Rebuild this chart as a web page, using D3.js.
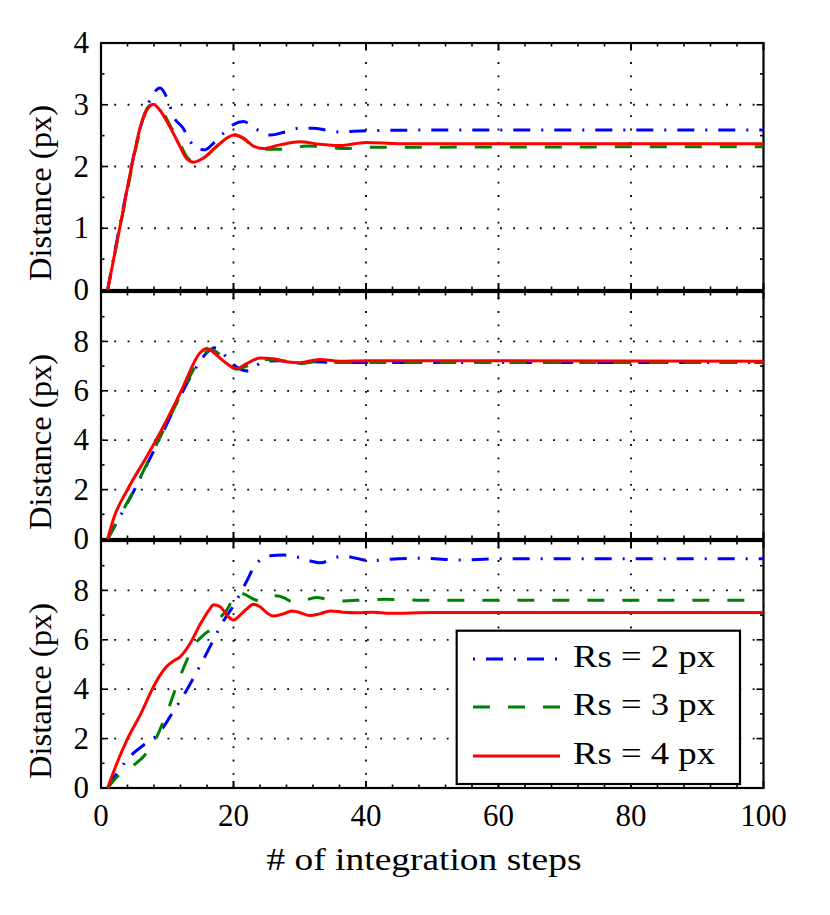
<!DOCTYPE html>
<html>
<head>
<meta charset="utf-8">
<script src="https://cdn.jsdelivr.net/npm/d3@7"></script>
<style>
  body { margin: 0; background: #fff; }
</style>
</head>
<body>
<div id="chart"></div>
<script>
// values, [step, distance]
const panel1Rs2 = [[1,0],[3.4,1.35],[6,2.65],[7.5,3.1],[8.9,3.27],[10,3.1],[11,2.8],[12.4,2.62],[13.5,2.4],[14.7,2.28],[15.7,2.27],[17,2.38],[18.6,2.55],[20,2.68],[21.5,2.73],[23.5,2.6],[25.6,2.51],[27.5,2.55],[30,2.62],[32,2.62],[34,2.59],[36,2.56],[40,2.58],[50,2.59],[100,2.59]];
const panel1Rs3 = [[1,0],[3.4,1.3],[6,2.62],[7,2.95],[7.7,3.0],[9,2.93],[10.5,2.65],[12,2.35],[13,2.15],[14,2.08],[15.5,2.14],[17.5,2.33],[20,2.52],[21.5,2.45],[23,2.33],[24.5,2.28],[27,2.28],[29,2.3],[31,2.33],[34,2.32],[37,2.29],[40,2.31],[100,2.32]];
const panel1Rs4 = [[1,0],[3,1.1],[5,2.2],[6,2.67],[7.3,2.97],[7.9,3.01],[8.6,2.95],[10.9,2.54],[11.9,2.33],[12.9,2.13],[14,2.07],[15.5,2.14],[17.5,2.33],[19,2.46],[20,2.51],[21.5,2.46],[23,2.33],[24.5,2.29],[27,2.35],[30,2.4],[33,2.36],[36,2.34],[40,2.39],[45,2.37],[100,2.37]];

const panel2Rs2 = [[1,0],[3.4,1.17],[5,1.97],[7,3.05],[9.7,4.52],[12.5,6.06],[14.5,7.0],[16,7.55],[17.2,7.74],[18,7.65],[19,7.34],[20.5,6.95],[22.2,6.8],[24.5,7.18],[27,7.22],[30,7.12],[32,7.18],[35,7.15],[40,7.15],[100,7.15]];
const panel2Rs3 = [[1,0],[3.4,1.2],[5,2.0],[7,3.08],[9.7,4.55],[12.5,6.1],[14.5,7.1],[15.8,7.55],[16.7,7.66],[18,7.45],[19.5,7.0],[20.5,6.87],[22,7.0],[25,7.27],[28,7.2],[30.2,7.1],[33,7.2],[36,7.15],[40,7.15],[100,7.15]];
const panel2Rs4 = [[1,0],[2,0.9],[4,2.0],[7,3.38],[9.2,4.45],[12,5.93],[15,7.55],[16,7.71],[17,7.55],[18.5,7.2],[20.5,6.9],[22,7.1],[24,7.33],[26,7.3],[28,7.18],[30,7.14],[33,7.27],[36,7.2],[40,7.22],[100,7.2]];

const panel3Rs2 = [[1,0],[2.4,0.6],[4.9,1.41],[6.5,1.75],[8.2,2.08],[9.5,2.5],[10.4,2.88],[12.9,3.95],[15.9,5.43],[18.5,6.77],[20,7.38],[22,8.38],[23,8.9],[24.1,9.25],[25.5,9.4],[27.6,9.43],[30.1,9.32],[31.5,9.2],[33.2,9.12],[35,9.3],[36.7,9.39],[38.5,9.3],[40.7,9.2],[43.7,9.26],[48.9,9.3],[54,9.23],[60,9.28],[100,9.28]];
const panel3Rs3 = [[1,0],[2.4,0.45],[5,0.94],[6.5,1.3],[7.9,1.81],[9.9,3.02],[11.9,4.49],[14.4,5.9],[15.5,6.2],[16.9,6.5],[18,6.9],[18.9,7.17],[19.8,7.6],[20.5,7.91],[21.7,7.84],[23,7.65],[24,7.57],[25,7.6],[26.5,7.78],[28,7.65],[29,7.51],[30.5,7.58],[32.5,7.71],[34.5,7.62],[36.5,7.57],[40,7.62],[43,7.64],[50,7.6],[100,7.6]];
const panel3Rs4 = [[1,0],[2.4,1.0],[3.9,1.94],[6,3.0],[7.9,4.09],[9,4.6],[9.9,4.92],[11,5.15],[11.9,5.3],[13.4,5.83],[15,6.64],[16.3,7.2],[17,7.42],[18,7.34],[19,7.0],[20,6.8],[21,7.0],[22,7.25],[23,7.44],[24,7.34],[25,7.1],[26,6.96],[27.5,7.05],[28.8,7.17],[30,7.1],[31.5,6.98],[33,7.05],[34.6,7.17],[36.5,7.12],[38.6,7.1],[41,7.12],[43.6,7.07],[50,7.11],[100,7.11]];

const legendLabels = ["Rs = 2 px", "Rs = 3 px", "Rs = 4 px"];
const xTicks = [0, 20, 40, 60, 80, 100];
const yTicksTop = [0, 1, 2, 3, 4];
const yTicksLower = [0, 2, 4, 6, 8];

const width = 830, height = 915;
const fontFamily = '"Liberation Serif", "Times New Roman", serif';
const styles = [
    {color: "#0000ff", dash: "17,11,2,11"},
    {color: "#008000", dash: "17,18"},
    {color: "#ff0000", dash: null}
];

const svg = d3.select("#chart")
    .append("svg")
    .attr("width", width)
    .attr("height", height);

const x = d3.scaleLinear().domain([0, 100]).range([101, 763.5]);

const panels = [
    {top: 43, bottom: 290, yMax: 4, ticks: yTicksTop, minor: 0.5, series: [panel1Rs2, panel1Rs3, panel1Rs4]},
    {top: 292, bottom: 539, yMax: 10, ticks: yTicksLower, minor: 1, series: [panel2Rs2, panel2Rs3, panel2Rs4]},
    {top: 541, bottom: 788, yMax: 10, ticks: yTicksLower, minor: 1, series: [panel3Rs2, panel3Rs3, panel3Rs4]}
];

const x0 = x(0), x1 = x(100);

function label(sel, size) {
    return sel.attr("font-family", fontFamily)
        .style("font-family", fontFamily)
        .style("font-size", size + "px")
        .attr("fill", "#000");
}

panels.forEach((p, i) => {
    const y = d3.scaleLinear().domain([0, p.yMax]).range([p.bottom, p.top]);
    const g = svg.append("g");

    // dotted grid
    xTicks.filter(t => t > 0 && t < 100).forEach(t => {
        g.append("line")
            .attr("x1", x(t)).attr("x2", x(t))
            .attr("y1", p.bottom).attr("y2", p.top)
            .attr("stroke", "#000").attr("stroke-width", 1.8)
            .attr("stroke-dasharray", "1.8,11.5");
    });
    p.ticks.filter(t => t > 0 && t < p.yMax).forEach(t => {
        g.append("line")
            .attr("x1", x0).attr("x2", x1)
            .attr("y1", y(t)).attr("y2", y(t))
            .attr("stroke", "#000").attr("stroke-width", 1.8)
            .attr("stroke-dasharray", "1.8,11.5");
    });

    // inward ticks on all four sides
    const xMinor = d3.range(0, 101, 4);
    xMinor.concat(xTicks).forEach(t => {
        const len = xTicks.includes(t) ? 7 : 3.5;
        [[p.bottom, -len], [p.top, len]].forEach(([yy, d]) => {
            g.append("line")
                .attr("x1", x(t)).attr("x2", x(t))
                .attr("y1", yy).attr("y2", yy + d)
                .attr("stroke", "#000").attr("stroke-width", 1.6);
        });
    });
    const yMinor = d3.range(0, p.yMax + 0.001, p.minor);
    yMinor.forEach(t => {
        const len = p.ticks.includes(Math.round(t * 10) / 10) ? 7 : 3.5;
        [[x0, len], [x1, -len]].forEach(([xx, d]) => {
            g.append("line")
                .attr("x1", xx).attr("x2", xx + d)
                .attr("y1", y(t)).attr("y2", y(t))
                .attr("stroke", "#000").attr("stroke-width", 1.6);
        });
    });

    g.append("rect")
        .attr("x", x0).attr("y", p.top)
        .attr("width", x1 - x0).attr("height", p.bottom - p.top)
        .attr("fill", "none").attr("stroke", "#000").attr("stroke-width", 2.2);

    // series
    const line = d3.line()
        .x(d => x(d[0]))
        .y(d => y(d[1]))
        .curve(d3.curveMonotoneX);

    p.series.forEach((s, j) => {
        g.append("path")
            .datum(s)
            .attr("d", line)
            .attr("fill", "none")
            .attr("stroke", styles[j].color)
            .attr("stroke-width", 3)
            .attr("stroke-dasharray", styles[j].dash);
    });

    // y tick labels
    p.ticks.forEach(t => {
        label(g.append("text"), 31)
            .attr("x", 89).attr("y", y(t))
            .attr("dy", "0.33em")
            .attr("text-anchor", "end")
            .text(t);
    });

    label(g.append("text"), 31)
        .attr("transform", `translate(51,${p.bottom - 97}) rotate(-90)`)
        .attr("text-anchor", "middle")
        .attr("textLength", 176)
        .attr("lengthAdjust", "spacingAndGlyphs")
        .text("Distance (px)");
});

// x tick labels and title under the bottom panel
xTicks.forEach(t => {
    label(svg.append("text"), 31)
        .attr("x", x(t)).attr("y", 826)
        .attr("text-anchor", "middle")
        .text(t);
});

label(svg.append("text"), 31)
    .attr("x", 424).attr("y", 870)
    .attr("text-anchor", "middle")
    .attr("textLength", 315)
    .attr("lengthAdjust", "spacingAndGlyphs")
    .text("# of integration steps");

// legend
const legend = svg.append("g");
legend.append("rect")
    .attr("x", 456.7).attr("y", 630.7)
    .attr("width", 283.3).attr("height", 153.3)
    .attr("fill", "#fff").attr("stroke", "#000").attr("stroke-width", 2.2);

const rowY = [659, 707, 756];
legendLabels.forEach((lab, j) => {
    legend.append("line")
        .attr("x1", 473).attr("x2", 560)
        .attr("y1", rowY[j]).attr("y2", rowY[j])
        .attr("stroke", styles[j].color)
        .attr("stroke-width", 3)
        .attr("stroke-dasharray", styles[j].dash)
        .attr("stroke-dashoffset", j === 0 ? 28 : 0);
    label(legend.append("text"), 31)
        .attr("x", 573).attr("y", rowY[j] + 8)
        .attr("textLength", 142)
        .attr("lengthAdjust", "spacingAndGlyphs")
        .text(lab);
});
</script>
</body>
</html>
